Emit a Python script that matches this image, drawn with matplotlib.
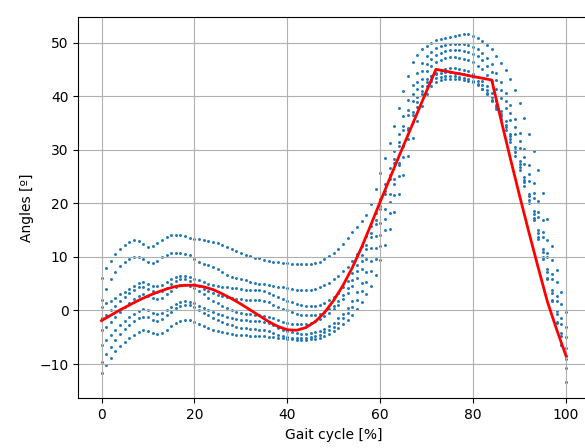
import matplotlib.pyplot as plt

gait_cycle = list(range(101))

# joint angle of each recorded cycle, one value per percent of the gait cycle
cycle_a = [6.0, 8.0, 9.3, 10.5, 11.4, 12.2, 12.8, 13.1, 13.0, 12.4,
           11.9, 12.0, 12.6, 13.2, 13.7, 14.0, 14.1, 14.0, 13.8, 13.6,
           13.4, 13.3, 13.1, 13.0, 12.8, 12.5, 12.2, 11.8, 11.4, 11.0,
           10.7, 10.4, 10.1, 9.8, 9.7, 9.5, 9.3, 9.1, 9.0, 8.9,
           8.8, 8.7, 8.7, 8.6, 8.6, 8.7, 8.8, 9.1, 9.6, 10.1,
           10.8, 11.5, 12.4, 13.5, 14.6, 15.6, 16.6, 17.8, 19.8, 22.7,
           25.6, 28.4, 31.3, 34.5, 37.8, 41.0, 43.8, 46.3, 47.7, 48.7,
           49.4, 49.9, 50.4, 50.7, 50.9, 51.1, 51.3, 51.4, 51.5, 51.5,
           51.3, 50.8, 50.2, 49.6, 48.7, 47.5, 46.2, 44.8, 43.2, 41.2,
           38.8, 36.0, 33.0, 29.8, 26.3, 22.0, 17.0, 12.0, 7.5, 3.5,
           -0.3]
cycle_b = [2.0, 4.0, 5.8, 7.2, 8.3, 9.1, 9.6, 9.9, 10.0, 9.6,
           9.1, 8.9, 9.3, 9.9, 10.4, 10.7, 10.8, 10.8, 10.6, 10.3,
           9.6, 9.1, 8.7, 8.4, 8.1, 7.7, 7.2, 6.7, 6.3, 6.0,
           5.8, 5.6, 5.4, 5.2, 5.0, 4.9, 4.7, 4.6, 4.4, 4.3,
           4.1, 4.0, 3.9, 3.9, 3.9, 3.9, 4.0, 4.3, 4.7, 5.2,
           5.8, 6.5, 7.3, 8.2, 9.2, 10.5, 12.0, 13.8, 15.8, 18.2,
           20.8, 23.6, 26.6, 29.8, 33.0, 36.2, 39.3, 42.0, 44.3, 46.1,
           47.4, 48.3, 48.9, 49.3, 49.6, 49.8, 49.8, 49.8, 49.7, 49.5,
           49.2, 48.7, 48.0, 47.1, 45.9, 44.4, 42.6, 40.6, 38.3, 35.8,
           33.1, 30.2, 27.1, 23.8, 20.4, 16.9, 13.2, 9.4, 5.4, 1.2,
           -3.0]
cycle_c = [0.7, 1.3, 1.8, 2.4, 3.0, 3.5, 4.0, 4.6, 5.1, 5.3,
           5.0, 4.6, 4.5, 4.8, 5.3, 5.8, 6.2, 6.4, 6.4, 6.2,
           5.9, 5.6, 5.3, 5.0, 4.8, 4.6, 4.4, 4.3, 4.2, 4.1,
           4.0, 3.9, 3.8, 3.8, 3.8, 3.7, 3.3, 2.9, 2.5, 2.1,
           1.8, 1.5, 1.2, 1.0, 0.9, 0.8, 0.9, 1.1, 1.4, 1.9,
           2.5, 3.3, 4.3, 5.5, 6.9, 8.5, 10.3, 12.3, 14.5, 16.9,
           19.5, 22.3, 25.2, 28.3, 31.4, 34.5, 37.5, 40.3, 42.7, 44.6,
           46.0, 47.0, 47.7, 48.1, 48.4, 48.6, 48.6, 48.6, 48.5, 48.3,
           47.9, 47.4, 46.7, 45.7, 44.5, 43.0, 41.2, 39.1, 36.8, 34.3,
           31.6, 28.6, 25.4, 22.0, 18.4, 14.7, 10.8, 6.8, 2.7, -1.4,
           -5.0]
cycle_d = [-1.5, -0.8, 0.0, 0.9, 1.8, 2.6, 3.2, 3.8, 4.3, 4.4,
           4.0, 3.6, 3.4, 3.6, 4.2, 4.9, 5.5, 5.8, 5.8, 5.5,
           5.0, 4.5, 4.0, 3.6, 3.2, 2.9, 2.7, 2.5, 2.3, 2.2,
           2.1, 2.0, 2.0, 1.9, 1.9, 1.8, 1.5, 1.1, 0.7, 0.3,
           0.0, -0.3, -0.6, -0.8, -0.9, -0.9, -0.8, -0.6, -0.3, 0.2,
           0.9, 1.8, 2.9, 4.2, 5.7, 7.4, 9.3, 11.4, 13.7, 16.2,
           18.9, 21.7, 24.6, 27.6, 30.6, 33.6, 36.5, 39.1, 41.4, 43.2,
           44.6, 45.6, 46.3, 46.8, 47.1, 47.3, 47.3, 47.2, 47.0, 46.7,
           46.3, 45.7, 45.0, 44.0, 42.8, 41.4, 39.7, 37.7, 35.5, 33.0,
           30.3, 27.4, 24.2, 20.9, 17.4, 13.7, 9.9, 5.9, 1.8, -2.5,
           -7.0]
cycle_e = [-3.7, -3.0, -2.1, -1.2, -0.3, 0.6, 1.4, 2.1, 2.7, 3.0,
           2.7, 2.3, 2.1, 2.4, 3.0, 3.7, 4.3, 4.7, 4.8, 4.6,
           4.2, 3.6, 3.0, 2.4, 1.8, 1.3, 0.8, 0.4, 0.0, -0.3,
           -0.5, -0.6, -0.7, -0.8, -0.9, -1.0, -1.2, -1.5, -1.8, -2.1,
           -2.3, -2.5, -2.6, -2.6, -2.5, -2.3, -2.0, -1.6, -1.1, -0.5,
           0.2, 1.1, 2.1, 3.3, 4.6, 6.1, 7.8, 9.6, 11.7, 13.9,
           16.3, 18.9, 21.7, 24.6, 27.6, 30.6, 33.6, 36.4, 38.9, 41.0,
           42.6, 43.7, 44.4, 44.9, 45.1, 45.2, 45.2, 45.1, 44.9, 44.6,
           44.2, 43.6, 42.8, 41.8, 40.6, 39.1, 37.3, 35.3, 33.0, 30.5,
           27.8, 24.9, 21.8, 18.5, 15.1, 11.5, 7.8, 3.9, -0.1, -4.2,
           -8.5]
cycle_f = [-6.5, -5.6, -4.6, -3.6, -2.7, -1.9, -1.2, -0.6, -0.1, 0.2,
           0.0, -0.4, -0.6, -0.4, 0.1, 0.7, 1.2, 1.6, 1.7, 1.6,
           1.3, 0.9, 0.5, 0.1, -0.3, -0.6, -0.9, -1.2, -1.4, -1.6,
           -1.7, -1.8, -1.9, -2.0, -2.0, -2.1, -2.4, -2.8, -3.2, -3.6,
           -3.9, -4.1, -4.3, -4.4, -4.4, -4.3, -4.1, -3.8, -3.4, -2.9,
           -2.3, -1.5, -0.6, 0.5, 1.8, 3.4, 5.2, 7.2, 9.3, 11.6,
           14.0, 17.0, 20.2, 23.6, 27.1, 30.6, 34.0, 37.1, 39.8, 41.8,
           43.1, 43.8, 44.2, 44.4, 44.5, 44.5, 44.4, 44.3, 44.1, 43.9,
           43.5, 42.9, 42.1, 41.1, 39.9, 38.4, 36.7, 34.7, 32.5, 30.0,
           27.3, 24.4, 21.3, 18.0, 14.5, 10.9, 7.2, 3.3, -0.7, -4.8,
           -9.0]
cycle_g = [-9.7, -8.2, -6.8, -5.5, -4.4, -3.5, -2.7, -2.0, -1.5, -1.2,
           -1.3, -1.7, -1.9, -1.6, -0.9, -0.2, 0.4, 0.9, 1.1, 1.0,
           0.6, 0.1, -0.4, -0.9, -1.4, -1.8, -2.2, -2.5, -2.8, -3.0,
           -3.2, -3.3, -3.4, -3.5, -3.6, -3.7, -3.9, -4.2, -4.5, -4.8,
           -5.0, -5.1, -5.2, -5.2, -5.1, -5.0, -4.8, -4.5, -4.1, -3.6,
           -3.0, -2.3, -1.5, -0.5, 0.6, 2.0, 3.6, 5.4, 7.4, 9.6,
           12.0, 15.0, 18.2, 21.6, 25.1, 28.6, 32.0, 35.2, 38.0, 40.3,
           41.9, 42.9, 43.4, 43.6, 43.7, 43.8, 43.7, 43.6, 43.4, 43.2,
           42.8, 42.2, 41.4, 40.4, 39.1, 37.6, 35.8, 33.7, 31.4, 28.9,
           26.2, 23.2, 20.1, 16.8, 13.3, 9.6, 5.8, 1.8, -2.3, -6.5,
           -10.8]
cycle_h = [-11.7, -10.2, -8.8, -7.6, -6.6, -5.8, -5.1, -4.5, -4.0, -3.7,
           -3.8, -4.2, -4.4, -4.2, -3.6, -2.9, -2.3, -1.9, -1.7, -1.8,
           -2.1, -2.5, -2.9, -3.3, -3.6, -3.9, -4.1, -4.3, -4.4, -4.5,
           -4.6, -4.6, -4.7, -4.7, -4.8, -4.8, -4.9, -5.0, -5.1, -5.2,
           -5.3, -5.4, -5.5, -5.5, -5.5, -5.4, -5.3, -5.1, -4.8, -4.4,
           -3.9, -3.3, -2.6, -1.8, -0.8, 0.3, 1.6, 3.0, 4.6, 6.6,
           9.5, 12.2, 15.2, 18.4, 21.8, 25.3, 28.8, 32.2, 35.4, 38.2,
           40.3, 41.8, 42.7, 43.0, 43.2, 43.2, 43.2, 43.1, 43.0, 42.8,
           42.6, 42.1, 41.4, 40.5, 39.3, 37.9, 36.2, 34.2, 32.0, 29.5,
           26.8, 23.9, 20.7, 17.3, 13.7, 10.0, 6.1, 2.0, -2.2, -6.5,
           -13.4]

cycles = [cycle_a, cycle_b, cycle_c, cycle_d, cycle_e, cycle_f, cycle_g, cycle_h]

# fitted curve
fit_x = [0, 2, 4, 6, 8, 10, 12, 14, 16, 18, 20, 22, 24, 26, 28, 30, 32, 34, 36,
         38, 40, 42, 44, 46, 48, 50, 52, 54, 56, 58, 60, 62, 64, 66, 68, 70, 72,
         84, 86, 88, 90, 92, 94, 96, 98, 100]
fit_y = [-1.9, -0.9, 0.1, 1.0, 1.9, 2.7, 3.4, 4.0, 4.5, 4.7, 4.7, 4.4, 3.9, 3.1,
         2.2, 1.2, 0.1, -1.0, -2.1, -3.0, -3.6, -3.7, -3.2, -2.1, -0.4, 1.9,
         4.7, 8.0, 11.8, 16.0, 20.3, 24.5, 28.7, 32.8, 36.9, 41.0, 45.0,
         43.0, 35.6, 28.4, 21.4, 14.6, 8.0, 1.6, -3.6, -8.5]

fig = plt.figure(figsize=(5.85, 4.48), dpi=100)
ax = fig.add_axes([0.1338, 0.1109, 0.8735, 0.8504])

for c in cycles:
    ax.scatter(gait_cycle, c, s=4.5, color='C0', linewidths=0)
ax.plot(fit_x, fit_y, color='red', linewidth=2)

ax.set_xlim(-5, 105)
ax.set_ylim(-16.4, 54.7)
ax.set_xlabel("Gait cycle [%]")
ax.set_ylabel("Angles [º]")
ax.grid(True)

fig.savefig("out.png", dpi=100)
